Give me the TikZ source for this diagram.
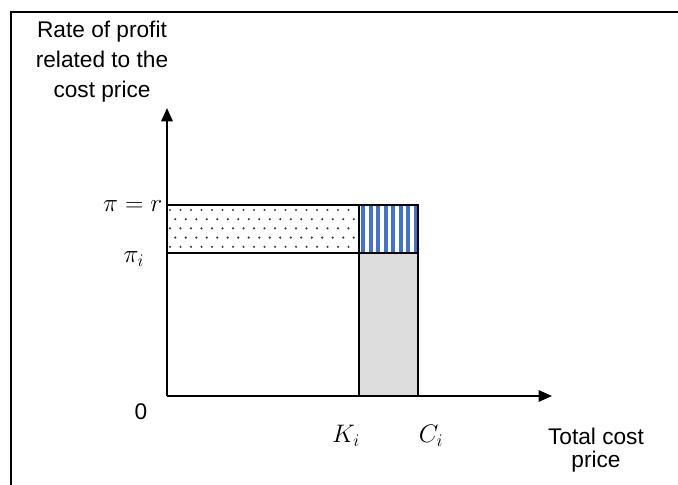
\RequirePackage{fix-cm}
\documentclass[tikz,border=0pt]{standalone}
\usepackage{fontspec}
\setmainfont{Liberation Sans}
\usepackage{tikz}
\usetikzlibrary{positioning,arrows.meta}
\definecolor{stripeblue}{RGB}{68,114,196}
\definecolor{shadegray}{RGB}{221,221,221}
\definecolor{dotgray}{RGB}{60,60,60}

\begin{document}
\begin{tikzpicture}[x=0.75pt,y=-0.75pt,
		edge/.style={line width=1.6pt},
		axis/.style={line width=1.6pt,-{Triangle[length=10pt,width=8.5pt]}},
		lbl/.style={font=\fontsize{17}{22.5}\selectfont,align=center},
		mathlbl/.style={font=\fontsize{19}{21}\selectfont}]
				\useasboundingbox (0,0) rectangle (678,485);
				% frame
				\draw[edge] (11,485) -- (11,12) -- (678,12);
				% corner points
				\coordinate (O) at (167,396);
				\coordinate (Ytip) at (167,108);
				\coordinate (Xtip) at (552,396);
				\coordinate (Rtop) at (167,205);
				\coordinate (Ptop) at (167,253);
				\coordinate (Ktop) at (359,205);
				\coordinate (Kmid) at (359,253);
				\coordinate (Kbot) at (359,396);
				\coordinate (Ctop) at (418,205);
				\coordinate (Cmid) at (418,253);
				\coordinate (Cbot) at (418,396);
				% grey block
				\fill[shadegray] (Kmid) rectangle (Cbot);
				% blue stripes
				\foreach \i in {0,...,7}{
					\pgfmathsetmacro{\xpos}{361+\i*7.5}
					\fill[stripeblue] (\xpos,206) rectangle ++(4,46);
				}
				% dots
				\begin{scope}
					\clip (Rtop) rectangle (Kmid);
					\foreach \row in {0,...,4}{
						\foreach \col in {0,...,18}{
							\pgfmathsetmacro{\xpos}{170+\col*10.5+mod(\row,2)*5.25}
							\pgfmathsetmacro{\ypos}{210+\row*9.2}
							\fill[dotgray] (\xpos,\ypos) circle (0.9pt);
						}
					}
				\end{scope}
				% outlines
				\draw[edge] (Rtop) -- (Ctop) -- (Cbot);
				\draw[edge] (Ptop) -- (Cmid);
				\draw[edge] (Ktop) -- (Kbot);
				% axes
				\draw[axis] (O) -- (Ytip);
				\draw[axis] (O) -- (Xtip);
				% labels
				\node[lbl] (ylab) at (102,62) {Rate of profit\\related to the\\cost price};
				\node[lbl,font=\fontsize{17}{17.25}\selectfont] (xlab) at (596,450) {Total cost\\price};
				\node[lbl] (zero) at (141,412) {0};
				\node[mathlbl,anchor=east] (rlab) at (167,206) {$\pi = r$};
				\node[mathlbl] (pilab) at (134,259) {$\pi_i$};
				\node[mathlbl] (klab) at (346,436) {$K_i$};
				\node[mathlbl] (clab) at (431,436) {$C_i$};
			\end{tikzpicture}
\end{document}
